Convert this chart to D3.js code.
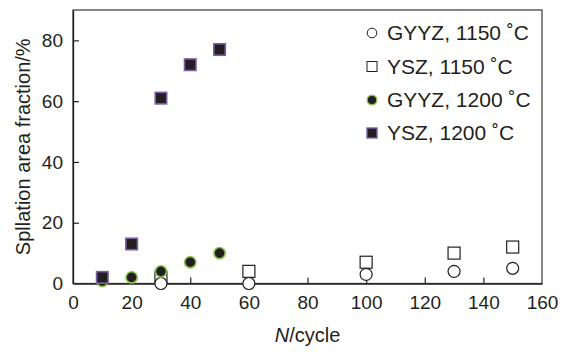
<!DOCTYPE html>
<html>
<head>
<meta charset="utf-8">
<script src="https://cdn.jsdelivr.net/npm/d3@7"></script>
<style>
  html, body { margin: 0; padding: 0; background: #fff; }
  svg { display: block; font-family: "Liberation Sans", Arial, sans-serif; }
</style>
</head>
<body>
<div id="chart"></div>
<script>
// cycles and spallation area fraction (%)
const gyyz1150Cycles = [30, 60, 100, 130, 150];
const gyyz1150Values = [0, 0, 3, 4, 5];
const ysz1150Cycles = [30, 60, 100, 130, 150];
const ysz1150Values = [2, 4, 7, 10, 12];
const gyyz1200Cycles = [10, 20, 30, 40, 50];
const gyyz1200Values = [0.8, 2, 4, 7, 10];
const ysz1200Cycles = [10, 20, 30, 40, 50];
const ysz1200Values = [2, 13, 61, 72, 77];

const xTicks = [0, 20, 40, 60, 80, 100, 120, 140, 160];
const yTicks = [0, 20, 40, 60, 80];
const legendLabels = ['GYYZ, 1150 \u02DAC', 'YSZ, 1150 \u02DAC', 'GYYZ, 1200 \u02DAC', 'YSZ, 1200 \u02DAC'];

const ink = '#231f20';
const green = '#8cc152';
const purple = '#7b5fa6';

const width = 566, height = 352;
const margin = { top: 10, right: 24, bottom: 68.5, left: 73 };
const w = width - margin.left - margin.right;
const h = height - margin.top - margin.bottom;

const svg = d3.select('#chart').append('svg')
  .attr('width', width)
  .attr('height', height);

const g = svg.append('g')
  .attr('transform', `translate(${margin.left},${margin.top})`);

const x = d3.scaleLinear().domain([0, 160]).range([0, w]);
const y = d3.scaleLinear().domain([0, 90]).range([h, 0]);

// frame
g.append('rect')
  .attr('x', 0).attr('y', 0)
  .attr('width', w).attr('height', h)
  .attr('fill', 'none')
  .attr('stroke', '#444')
  .attr('stroke-width', 1.3);

// axes, inward ticks
const xAxis = g.append('g')
  .attr('transform', `translate(0,${h})`)
  .call(d3.axisBottom(x).tickValues(xTicks).tickSizeInner(-6).tickSizeOuter(0).tickPadding(12));
const yAxis = g.append('g')
  .call(d3.axisLeft(y).tickValues(yTicks).tickSizeInner(-6).tickSizeOuter(0).tickPadding(10));

[xAxis, yAxis].forEach(ax => {
  ax.select('.domain').attr('stroke', ink).attr('stroke-width', 1.3);
  ax.selectAll('line').attr('stroke', ink).attr('stroke-width', 1.2);
  ax.selectAll('text')
    .attr('fill', ink)
    .style('font-size', '19px')
    .style('font-family', '"Liberation Sans", Arial, sans-serif');
});
xAxis.selectAll('.tick').filter(d => d === 0 || d === 160).select('line').remove();
yAxis.selectAll('.tick').filter(d => d === 0).select('line').remove();

// axis titles
const xTitle = svg.append('text')
  .attr('x', margin.left + w / 2)
  .attr('y', 342)
  .attr('text-anchor', 'middle')
  .attr('fill', ink)
  .style('font-size', '20px');
xTitle.append('tspan').attr('font-style', 'italic').text('N');
xTitle.append('tspan').text('/cycle');

svg.append('text')
  .attr('transform', `translate(29.5,${margin.top + h / 2}) rotate(-90)`)
  .attr('text-anchor', 'middle')
  .attr('fill', ink)
  .style('font-size', '20px')
  .text('Spllation area fraction/%');

// markers
const pts = (cs, vs) => cs.map((c, i) => ({ c, v: vs[i] }));

function squares(data, size, fill, stroke, sw) {
  g.append('g').selectAll('rect')
    .data(data).enter().append('rect')
    .attr('x', d => x(d.c) - size / 2)
    .attr('y', d => y(d.v) - size / 2)
    .attr('width', size).attr('height', size)
    .attr('fill', fill).attr('stroke', stroke).attr('stroke-width', sw);
}
function circles(data, r, fill, stroke, sw) {
  g.append('g').selectAll('circle')
    .data(data).enter().append('circle')
    .attr('cx', d => x(d.c))
    .attr('cy', d => y(d.v))
    .attr('r', r)
    .attr('fill', fill).attr('stroke', stroke).attr('stroke-width', sw);
}

squares(pts(ysz1150Cycles, ysz1150Values), 12, '#fff', ink, 1.2);
circles(pts(gyyz1150Cycles, gyyz1150Values), 6, '#fff', ink, 1.2);
circles(pts(gyyz1200Cycles, gyyz1200Values), 5.6, ink, green, 1.6);
squares(pts(ysz1200Cycles, ysz1200Values), 11.5, ink, purple, 1.6);

// legend
const legend = svg.append('g');
const rowY = [33, 66.5, 100, 133];
const mx = 372, tx = 387;
legendLabels.forEach((label, i) => {
  const row = legend.append('g').attr('transform', `translate(0,${rowY[i]})`);
  if (i === 0) row.append('circle').attr('cx', mx).attr('cy', 0).attr('r', 4.8)
    .attr('fill', '#fff').attr('stroke', ink).attr('stroke-width', 1);
  if (i === 1) row.append('rect').attr('x', mx - 5).attr('y', -5).attr('width', 10).attr('height', 10)
    .attr('fill', '#fff').attr('stroke', ink).attr('stroke-width', 1);
  if (i === 2) row.append('circle').attr('cx', mx).attr('cy', 0).attr('r', 4.8)
    .attr('fill', ink).attr('stroke', green).attr('stroke-width', 1.4);
  if (i === 3) row.append('rect').attr('x', mx - 5).attr('y', -5).attr('width', 10).attr('height', 10)
    .attr('fill', ink).attr('stroke', purple).attr('stroke-width', 1.4);
  row.append('text')
    .attr('x', tx).attr('y', 0).attr('dy', '0.35em')
    .attr('fill', ink)
    .style('font-size', '21px')
    .text(label);
});
</script>
</body>
</html>
